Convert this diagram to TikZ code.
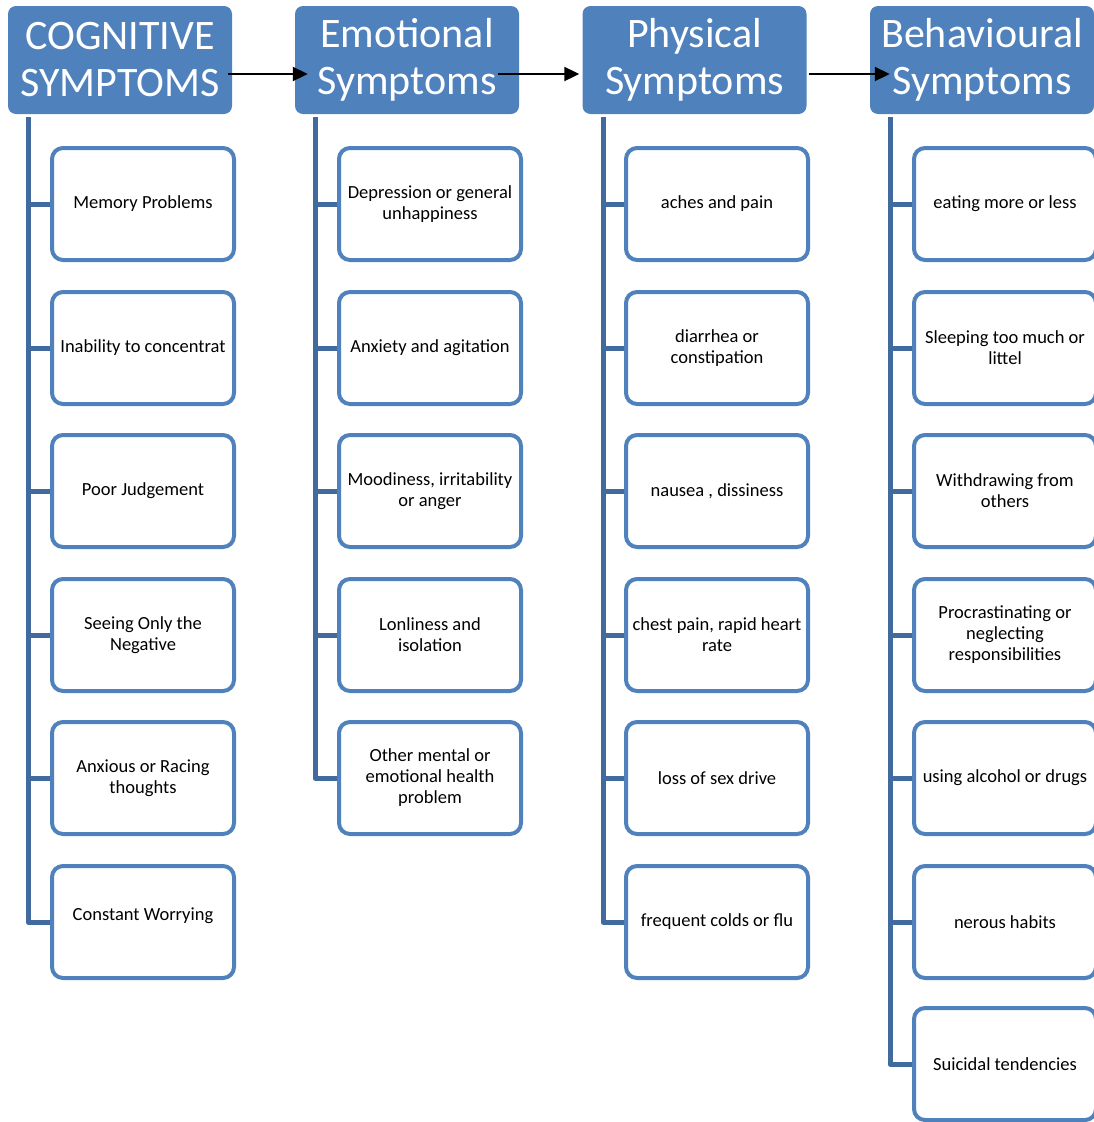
\documentclass[tikz,border=0pt]{standalone}
\usepackage{fontspec}
\setmainfont{Carlito}
\usetikzlibrary{arrows.meta}
\definecolor{hdr}{HTML}{4F81BD}
\definecolor{bord}{HTML}{4F81BD}
\definecolor{conn}{HTML}{416A9F}
\tikzset{
  hdrbox/.style={fill=hdr, rounded corners=8pt, minimum width=224pt, minimum height=108pt,
    text=white, font=\fontsize{42}{47}\selectfont, align=center, inner sep=0pt},
  itembox/.style={draw=bord, line width=4pt, fill=white, rounded corners=11pt,
    minimum width=182pt, minimum height=112pt, font=\fontsize{18.5}{21}\selectfont,
    align=center, inner sep=0pt},
  connline/.style={draw=conn, line width=5pt, line join=round},
  arr/.style={-{Triangle[length=15pt,width=14pt]}, line width=2pt, black}
}
\begin{document}
\begin{tikzpicture}[x=1pt,y=-1pt]
\useasboundingbox (0,0) rectangle (1094,1122);
% headers
\node[hdrbox] (h1) at (120,60) {COGNITIVE\\SYMPTOMS};
\node[hdrbox] (h2) at (407,60) {Emotional\\Symptoms};
\node[hdrbox] (h3) at (694.5,60) {Physical\\Symptoms};
\node[hdrbox] (h4) at (982,60) {Behavioural\\Symptoms};
% arrows
\draw[arr] ([xshift=-4pt,yshift=-14pt]h1.east) -- ([xshift=13pt,yshift=-14pt]h2.west);
\draw[arr] ([xshift=-21pt,yshift=-14pt]h2.east) -- ([xshift=-3pt,yshift=-14pt]h3.west);
\draw[arr] ([xshift=2pt,yshift=-14pt]h3.east) -- ([xshift=20pt,yshift=-14pt]h4.west);
% column 1
\coordinate (v1) at (28,117);
\node[itembox] (a1) at (143,204) {Memory Problems};
\node[itembox] (a2) at (143,348) {Inability to concentrat};
\node[itembox] (a3) at (143,491) {Poor Judgement};
\node[itembox] (a4) at (143,635) {Seeing Only the\\Negative};
\node[itembox] (a5) at (143,778) {Anxious or Racing\\thoughts};
\node[itembox] (a6) at (143,922) {\raisebox{15pt}{Constant Worrying}};
\draw[connline] (v1) |- (a6.west);
\foreach \n in {a1,a2,a3,a4,a5} \draw[connline] (v1 |- \n.west) -- (\n.west);
% column 2
\coordinate (v2) at (315,117);
\node[itembox] (b1) at (430,204) {Depression or general\\unhappiness};
\node[itembox] (b2) at (430,348) {Anxiety and agitation};
\node[itembox] (b3) at (430,491) {Moodiness, irritability\\or anger};
\node[itembox] (b4) at (430,635) {Lonliness and\\isolation};
\node[itembox] (b5) at (430,778) {Other mental or\\emotional health\\problem};
\draw[connline] (v2) |- (b5.west);
\foreach \n in {b1,b2,b3,b4} \draw[connline] (v2 |- \n.west) -- (\n.west);
% column 3
\coordinate (v3) at (603,117);
\node[itembox] (c1) at (717,204) {aches and pain};
\node[itembox] (c2) at (717,348) {diarrhea or\\constipation};
\node[itembox] (c3) at (717,491) {nausea , dissiness};
\node[itembox] (c4) at (717,635) {chest pain, rapid heart\\rate};
\node[itembox] (c5) at (717,778) {loss of sex drive};
\node[itembox] (c6) at (717,922) {frequent colds or flu};
\draw[connline] (v3) |- (c6.west);
\foreach \n in {c1,c2,c3,c4,c5} \draw[connline] (v3 |- \n.west) -- (\n.west);
% column 4
\coordinate (v4) at (890,117);
\node[itembox] (d1) at (1005,204) {eating more or less};
\node[itembox] (d2) at (1005,348) {Sleeping too much or\\littel};
\node[itembox] (d3) at (1005,491) {Withdrawing from\\others};
\node[itembox] (d4) at (1005,635) {Procrastinating or\\neglecting\\responsibilities};
\node[itembox] (d5) at (1005,778) {using alcohol or drugs};
\node[itembox] (d6) at (1005,922) {nerous habits};
\node[itembox] (d7) at (1005,1064) {Suicidal tendencies};
\draw[connline] (v4) |- (d7.west);
\foreach \n in {d1,d2,d3,d4,d5,d6} \draw[connline] (v4 |- \n.west) -- (\n.west);
\end{tikzpicture}
\end{document}
